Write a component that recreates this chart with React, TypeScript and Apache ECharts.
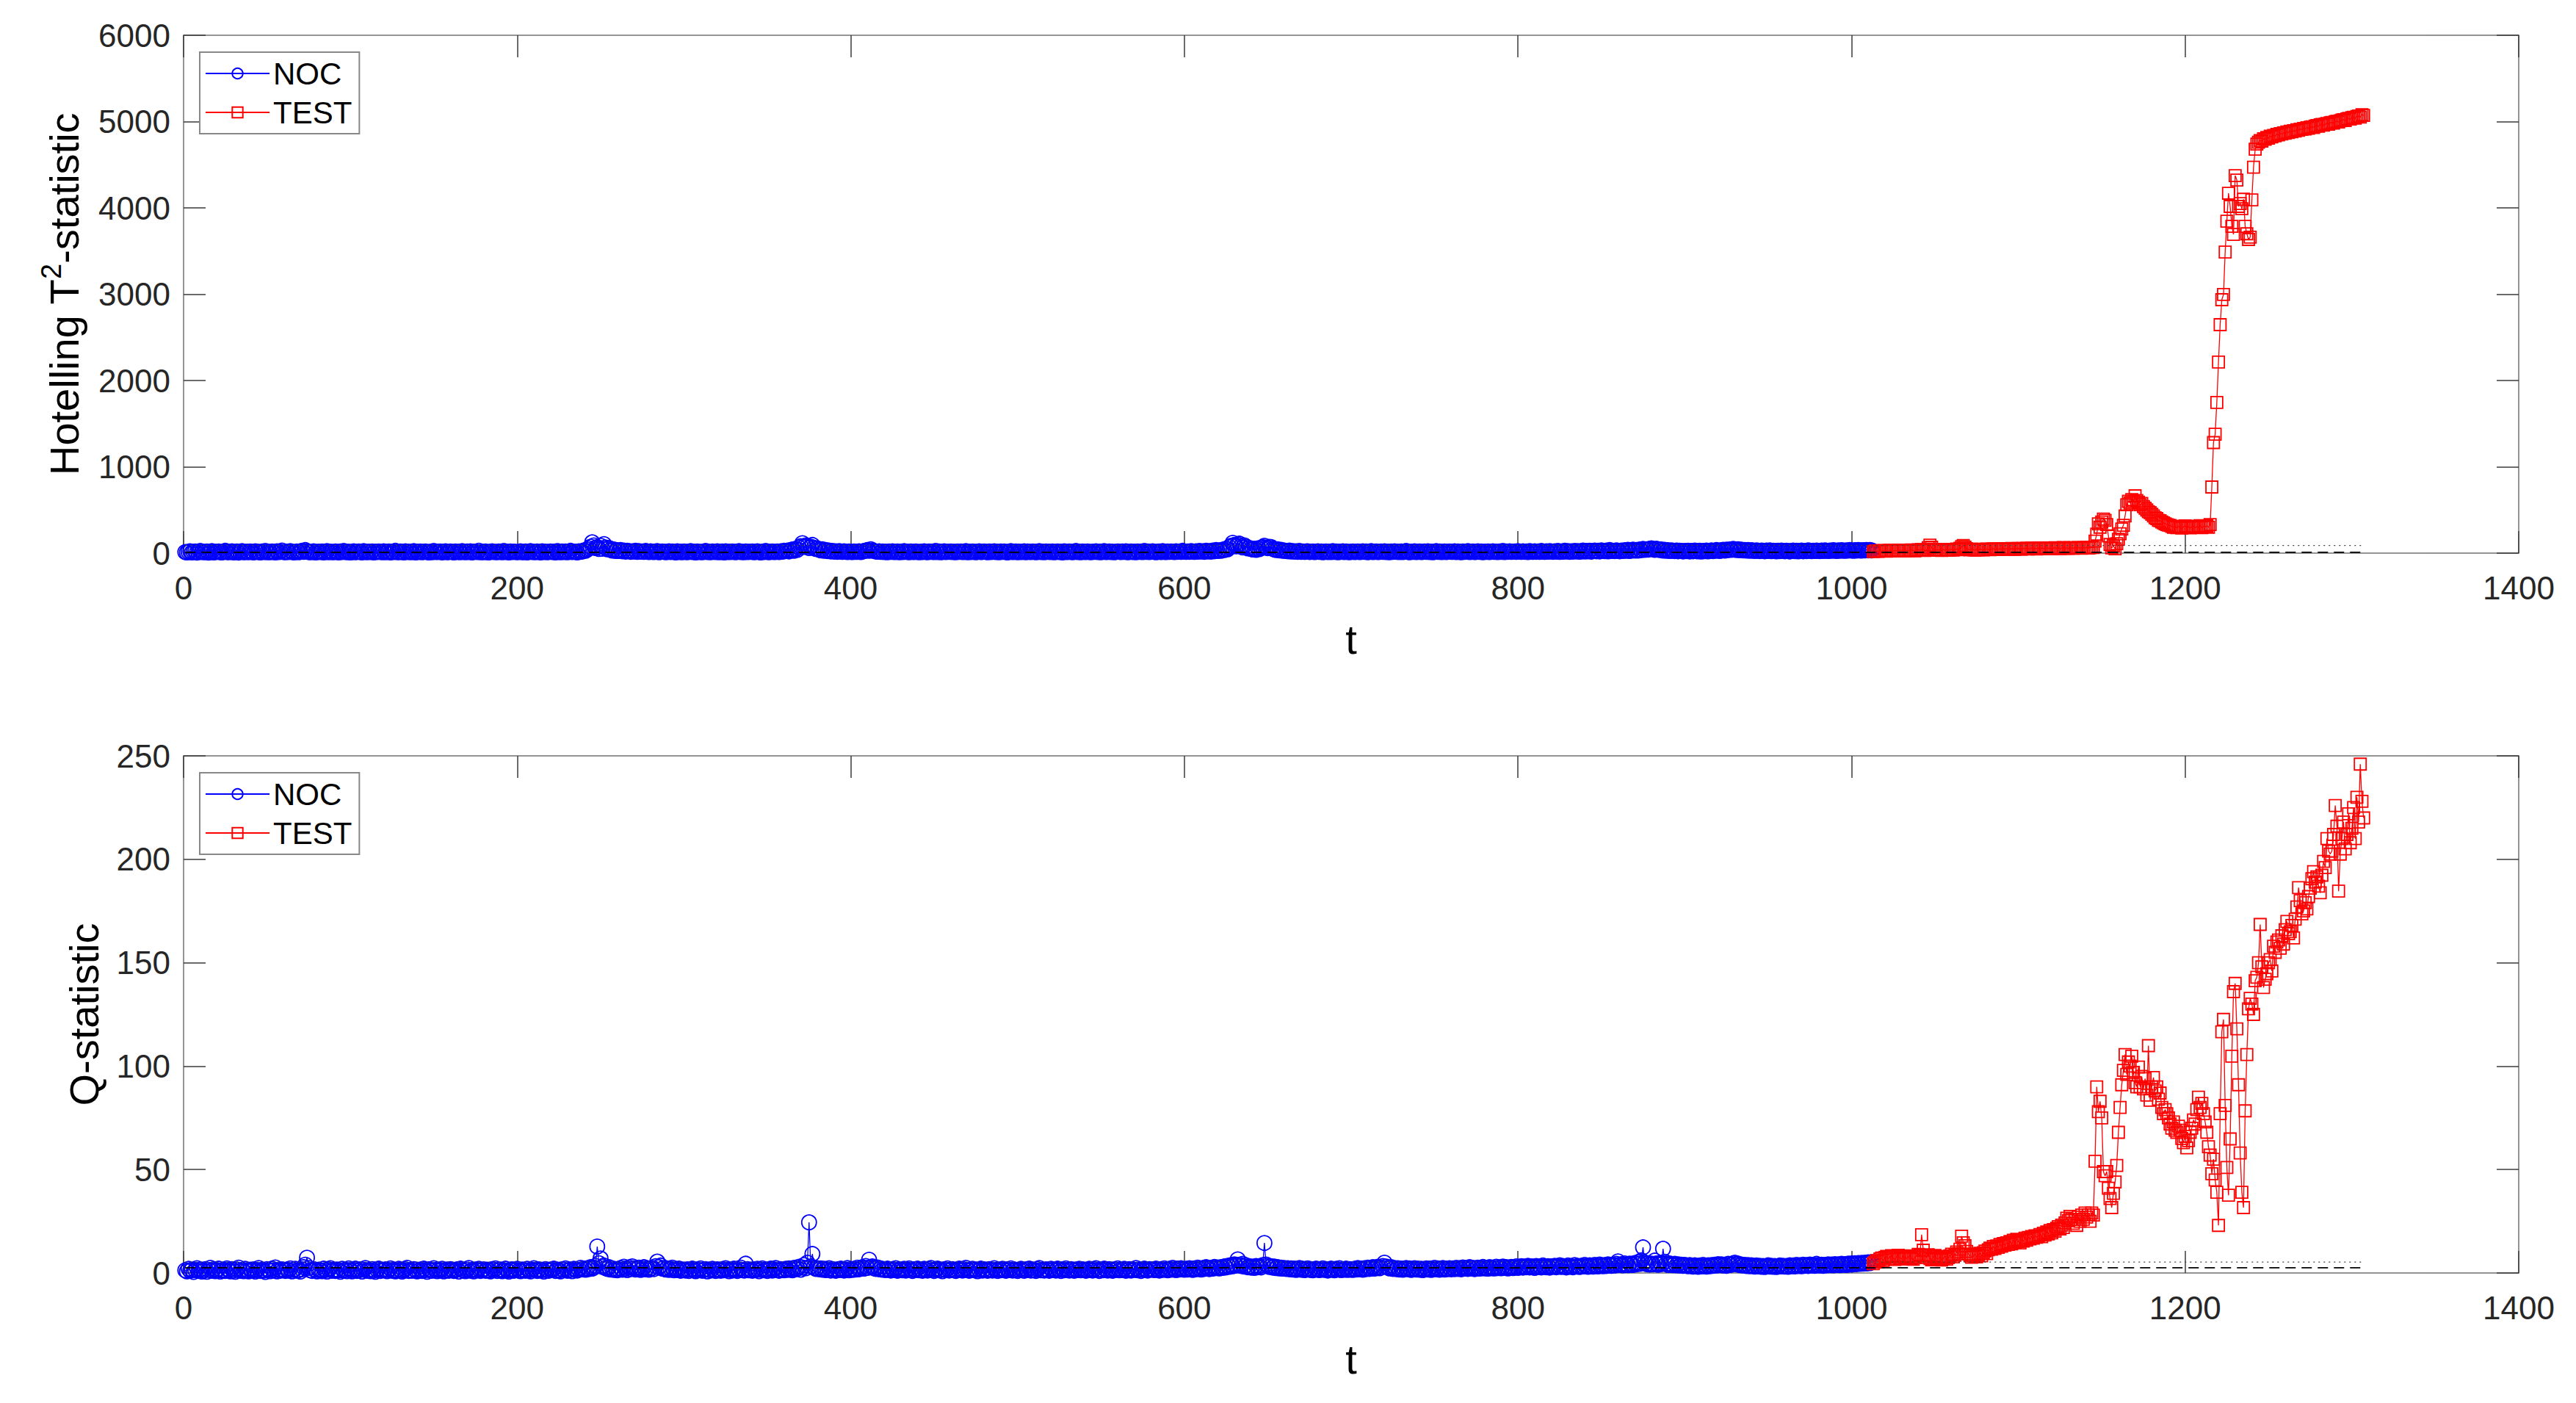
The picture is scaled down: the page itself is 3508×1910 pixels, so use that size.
import React, { useEffect, useRef } from 'react';
import * as echarts from 'echarts';

// ---------------- axis ranges / ticks ----------------
const X_RANGE = [0, 1400];
const X_STEP = 200;
const T2_RANGE = [0, 6000];
const T2_STEP = 1000;
const Q_RANGE = [0, 250];
const Q_STEP = 50;

const SERIES_NAMES = ['NOC', 'TEST'];

// control limits: [dotted, dashed]
const T2_LIMITS = [88, 10];
const Q_LIMITS = [5.3, 2.5];

// ---------------- Hotelling T^2 : NOC (t = 1 .. 1012) ----------------
const NOC_T2 = [
  12,8,15,22,9,14,18,7,11,25,16,10,13,20,6,17,23,9,12,15,
  19,11,8,14,27,13,10,16,21,9,12,18,7,15,24,11,13,17,10,20,
  14,9,22,16,12,8,19,13,26,11,15,10,18,14,9,21,12,16,30,13,
  10,17,12,24,15,9,13,20,11,16,28,14,35,19,12,10,15,22,8,13,
  16,12,19,9,14,23,11,17,13,10,20,15,8,18,12,25,14,11,16,9,
  13,21,10,15,18,12,9,24,14,11,17,13,20,8,16,12,19,15,10,22,
  11,14,18,9,16,13,27,12,10,19,15,8,21,13,17,11,14,23,9,16,
  12,18,10,15,20,13,9,17,11,26,14,12,16,19,8,15,22,10,13,18,
  14,9,20,12,16,11,24,15,10,18,13,21,9,14,17,12,28,11,15,10,
  19,13,8,16,22,12,15,10,18,14,11,25,13,17,9,20,12,16,14,11,
  15,21,10,13,18,9,16,24,12,14,11,19,15,8,22,13,17,10,14,20,
  12,16,9,23,14,11,18,13,20,10,15,27,12,17,14,9,21,16,19,32,
  28,40,55,75,125,90,60,70,48,85,52,105,66,45,60,38,30,42,25,33,
  26,35,22,30,18,28,24,16,21,19,27,15,23,17,20,14,25,18,12,22,
  16,13,19,24,11,15,20,17,10,14,22,12,18,15,9,21,13,16,11,19,
  14,10,17,23,12,16,9,20,13,15,11,18,25,12,14,10,19,16,13,21,
  11,15,18,9,22,13,16,12,20,14,10,17,24,13,15,11,19,12,16,14,
  18,10,15,21,13,9,17,12,26,14,11,16,20,13,15,19,12,22,17,28,
  24,30,20,35,42,28,50,38,65,80,115,72,90,80,60,75,95,62,48,55,
  40,32,45,28,36,24,30,20,26,18,22,16,24,19,14,21,17,13,18,15,
  12,19,14,16,22,13,18,25,30,35,28,45,32,24,20,17,22,14,19,13,
  16,11,18,14,21,12,15,19,10,17,13,23,14,16,11,20,15,12,18,14,
  10,17,13,22,15,11,19,14,16,12,25,13,18,10,15,21,12,17,14,19,
  13,16,11,20,14,18,12,15,23,10,17,13,19,14,11,16,21,12,15,18,
  14,10,19,13,17,22,12,16,11,18,15,20,13,9,16,24,12,14,19,11,
  17,13,15,21,10,18,14,12,20,16,11,15,23,13,17,10,19,14,16,12,
  20,11,15,18,13,16,9,22,14,12,19,15,11,17,26,13,16,10,18,14,
  12,19,15,11,17,14,21,13,16,10,18,24,12,15,20,13,17,11,14,19,
  16,12,18,14,22,10,15,19,13,17,11,20,14,16,12,25,15,18,13,17,
  21,14,11,16,19,13,24,15,12,18,14,20,17,13,22,16,19,15,27,18,
  14,20,16,23,18,15,21,17,26,19,22,16,28,20,24,18,30,22,35,26,
  32,28,40,36,52,45,70,85,120,95,78,100,110,80,65,90,72,55,60,48,
  42,50,38,55,46,62,70,85,64,58,72,70,50,42,36,44,32,38,28,30,
  26,22,30,19,24,18,21,16,25,15,20,14,18,22,13,17,19,12,16,21,
  14,18,11,16,20,13,17,12,23,15,19,10,16,14,21,13,18,15,11,17,
  20,13,16,19,12,15,22,14,18,11,17,24,13,16,20,12,15,18,14,21,
  13,17,11,19,15,22,14,16,12,20,13,18,25,15,11,17,14,21,13,16,
  19,12,15,18,14,21,13,17,10,16,23,14,18,12,15,20,13,17,19,14,
  16,22,13,18,15,11,20,14,17,24,13,16,19,12,15,21,14,18,11,17,
  15,20,13,17,22,14,16,12,19,15,25,13,18,16,21,14,17,20,15,23,
  17,14,21,16,19,13,24,18,15,22,16,20,14,26,18,15,21,17,23,19,
  16,22,18,25,15,20,17,28,19,23,16,21,18,26,20,24,17,22,30,19,
  25,21,28,18,24,30,22,27,20,32,26,23,29,21,35,25,28,24,31,27,
  22,30,26,34,28,38,25,32,40,29,36,30,42,35,48,38,44,40,50,55,
  46,38,52,45,36,42,30,38,28,34,25,32,27,24,30,22,28,26,20,25,
  23,28,20,26,22,30,24,21,27,19,25,23,29,21,26,32,24,28,35,30,
  26,33,38,30,40,35,42,38,48,44,36,45,34,40,32,37,30,35,28,33,
  30,26,32,28,24,30,27,22,29,25,31,23,28,26,21,27,24,30,25,22,
  28,24,20,26,30,23,27,21,25,29,22,26,24,31,27,23,28,25,30,26,
  24,29,26,32,28,25,30,27,33,29,26,31,28,34,30,27,32,29,35,31,
  28,33,30,36,32,29,34,31,37,33,35,32,
];

// ---------------- Hotelling T^2 : TEST (t = 1013 .. 1307) ----------------
const TEST_T2 = [
  18,22,25,20,28,24,30,26,22,29,33,27,24,31,28,35,30,26,32,29,
  34,28,31,37,30,26,33,39,35,41,36,30,38,62,92,68,44,36,40,33,
  37,32,39,35,41,34,38,44,36,42,47,40,56,75,88,70,52,43,38,45,
  40,36,43,38,46,41,37,44,48,42,39,46,50,43,47,41,49,45,52,46,
  50,44,48,53,47,43,51,55,49,46,54,50,57,48,52,58,51,55,49,56,
  53,59,52,57,61,54,58,50,56,62,55,60,53,58,64,57,61,55,63,59,
  56,62,58,65,60,57,64,61,67,59,63,70,66,140,220,340,300,360,394,380,
  330,200,100,60,85,50,110,160,224,280,323,430,560,600,580,620,600,664,610,590,
  560,575,540,520,500,480,470,450,430,410,400,380,375,360,350,340,330,325,320,310,
  300,305,295,310,300,290,305,315,298,308,292,302,312,296,306,300,318,295,310,305,
  315,300,330,766,1281,1378,1745,2213,2647,2936,2996,3489,3846,4170,4017,3787,3693,4374,4323,4017,
  4050,3990,4100,3787,3700,3634,3660,4093,4472,4680,4740,4760,4780,4774,4800,4795,4815,4808,4830,4822,
  4840,4835,4851,4845,4860,4856,4870,4865,4880,4874,4888,4882,4895,4890,4905,4899,4912,4910,4920,4915,
  4928,4922,4935,4940,4932,4948,4955,4946,4962,4966,4958,4972,4978,4970,4985,4990,4982,4998,5004,4995,
  5010,5018,5023,5012,5030,5036,5028,5045,5050,5040,5058,5065,5052,5080,5072,
];

// ---------------- Q-statistic : NOC (t = 1 .. 1012) ----------------
const NOC_Q = [
  1.3,0.8,2.0,1.1,1.6,0.5,1.4,2.3,1.0,1.7,0.7,1.2,1.9,0.6,1.5,2.5,1.1,1.8,0.9,1.4,
  2.1,0.7,1.3,1.6,1.0,2.2,1.4,0.8,1.9,1.2,0.6,1.7,2.6,1.1,1.5,0.9,2.0,1.3,0.8,1.6,
  1.1,1.8,0.7,1.4,2.4,1.0,1.6,1.2,0.5,1.9,1.5,0.9,2.1,1.3,2.7,0.8,1.6,1.1,1.8,1.4,
  1.0,1.7,1.2,2.2,0.8,1.5,2.0,1.1,1.4,0.7,1.8,2.8,4.0,7.4,2.4,1.3,1.0,1.9,1.5,0.8,
  1.6,1.2,0.9,2.1,1.4,0.7,1.8,2.3,1.1,1.5,1.0,1.7,1.3,0.6,2.0,1.2,1.6,0.9,2.2,1.4,
  0.8,1.5,2.1,1.0,1.3,1.8,0.7,1.6,2.4,1.1,1.4,0.9,1.9,1.2,0.6,1.7,2.1,1.0,1.5,1.3,
  1.8,0.9,1.4,2.2,1.1,1.6,0.8,1.3,2.0,1.5,0.7,1.2,1.8,2.5,1.0,1.4,1.1,1.9,1.6,0.8,
  1.2,1.7,1.0,2.1,1.4,0.6,1.8,1.3,1.1,2.3,1.5,0.9,1.6,1.2,2.0,0.8,1.4,1.7,1.1,1.9,
  1.5,1.0,1.3,1.8,0.7,2.1,1.4,1.2,0.9,1.6,2.4,1.1,1.5,0.8,1.7,1.3,2.0,1.0,1.4,1.8,
  1.1,1.6,1.2,0.8,1.9,1.4,2.2,1.0,1.5,1.7,0.9,1.3,2.1,1.2,0.7,1.6,1.8,1.1,1.4,2.0,
  1.2,0.9,1.7,1.5,1.1,2.0,1.3,0.8,1.6,2.3,1.4,1.0,1.8,1.2,1.5,0.7,1.9,1.3,1.1,1.7,
  1.4,2.1,1.0,1.6,1.2,0.8,1.8,1.5,2.2,1.1,1.3,1.7,0.9,2.0,1.4,1.2,1.6,2.5,1.8,2.1,
  1.6,2.3,1.9,2.8,2.1,2.6,3.4,12.8,4.7,7.0,3.0,3.6,2.4,2.0,2.8,1.7,2.2,1.5,1.9,1.3,
  1.8,2.4,1.6,3.0,2.1,1.4,2.7,1.9,3.2,2.3,1.7,2.1,2.6,1.5,2.0,2.8,1.8,2.3,1.6,2.2,
  2.5,1.9,3.3,5.5,2.8,3.6,2.1,2.4,1.7,2.2,1.5,2.0,2.6,1.3,1.8,1.4,2.1,1.1,1.7,1.5,
  1.2,1.8,1.0,1.6,2.1,1.3,0.9,1.7,1.4,2.2,1.1,1.5,1.9,0.8,1.6,1.2,2.0,1.4,1.0,1.8,
  1.5,1.1,1.9,1.3,2.3,1.6,0.9,1.7,1.2,2.1,1.4,1.0,1.8,2.6,1.5,1.2,4.5,1.9,1.3,1.6,
  1.1,1.8,1.4,2.0,0.9,1.6,2.2,1.3,1.7,1.0,1.5,2.1,1.2,1.8,2.4,1.4,1.1,1.9,1.6,1.3,
  2.0,1.5,2.2,1.7,1.3,2.5,1.8,2.1,3.0,1.6,2.7,3.8,2.3,5.0,24.5,3.2,9.2,2.6,2.0,2.3,
  1.8,2.2,1.6,2.0,1.4,1.7,2.3,1.2,1.9,1.5,1.1,1.8,1.4,2.1,1.6,1.2,1.7,2.4,1.3,1.9,
  1.5,2.0,1.7,2.6,1.8,2.2,2.8,2.1,3.4,2.5,6.4,2.9,3.2,2.3,2.0,2.7,1.8,2.2,1.6,1.9,
  1.4,2.1,1.7,1.2,1.9,1.5,2.3,1.1,1.8,1.6,1.3,2.0,1.2,1.7,2.2,1.4,1.0,1.8,1.5,2.1,
  1.3,1.7,1.1,2.0,1.5,1.2,1.9,2.4,1.4,1.0,1.7,2.1,1.3,1.6,0.9,1.8,1.4,2.2,1.2,1.6,
  1.9,1.3,1.0,1.7,2.1,1.5,1.2,1.8,2.5,1.4,1.1,1.6,2.0,1.3,1.7,0.9,1.5,2.1,1.2,1.8,
  1.4,1.1,1.9,1.6,1.2,2.3,1.5,1.0,1.7,1.3,2.0,1.6,1.1,1.8,1.4,2.2,1.2,1.7,1.5,1.0,
  1.6,2.0,1.3,1.1,1.8,1.5,2.1,1.2,1.7,1.4,1.0,1.9,2.4,1.3,1.6,1.2,1.8,1.5,1.1,2.0,
  1.4,1.7,1.2,2.1,1.6,1.0,1.8,1.3,2.2,1.5,1.2,1.9,1.6,1.1,1.7,1.4,2.0,1.3,1.8,1.5,
  1.1,1.6,2.0,1.4,1.2,1.8,2.3,1.5,1.0,1.7,1.3,2.1,1.6,1.2,1.9,1.4,1.1,1.8,1.5,2.2,
  1.3,1.7,1.4,2.0,1.1,1.6,1.9,1.2,1.8,1.5,2.4,1.3,1.7,1.0,1.6,2.1,1.4,1.2,1.9,1.6,
  1.8,1.4,2.1,1.6,1.2,1.9,1.5,2.2,1.7,1.3,2.0,1.6,2.5,1.8,1.4,2.1,1.7,2.3,1.9,1.6,
  2.0,1.7,2.3,1.9,1.5,2.2,1.8,2.6,2.1,1.7,2.4,2.0,2.8,2.2,1.9,2.5,2.1,2.9,2.4,2.7,
  2.2,2.8,2.5,3.2,2.7,3.5,3.0,3.8,3.3,4.2,3.6,6.6,4.0,3.4,4.4,3.1,3.7,2.8,3.3,2.6,
  3.0,2.5,3.4,2.8,3.2,2.7,3.8,14.5,4.1,3.5,2.9,3.3,2.6,3.1,2.4,2.8,2.2,2.6,2.1,2.4,
  2.0,2.3,1.8,2.2,1.7,2.1,1.5,1.9,2.4,1.6,2.0,1.4,1.8,2.2,1.5,1.9,1.3,1.7,2.1,1.6,
  1.4,1.8,2.2,1.5,1.9,1.2,1.7,2.1,1.6,1.3,2.0,1.7,2.3,1.4,1.8,1.6,2.1,1.5,1.9,1.7,
  1.5,2.0,1.7,2.4,1.8,2.1,1.6,2.3,1.9,2.6,2.0,2.2,2.8,2.1,2.5,3.0,2.3,2.7,3.4,5.0,
  3.1,2.6,2.2,2.8,2.0,2.4,1.9,2.3,1.7,2.1,1.6,2.0,2.4,1.8,2.2,1.5,1.9,2.3,1.7,2.1,
  1.6,2.0,1.4,1.8,2.2,1.7,2.1,1.5,1.9,2.5,1.8,2.2,1.6,2.0,2.4,1.7,2.1,1.9,2.3,1.8,
  2.2,1.9,2.5,2.0,2.3,1.8,2.7,2.1,2.4,2.0,2.8,2.2,2.5,1.9,2.3,2.6,2.1,2.4,2.9,2.2,
  2.5,2.1,2.8,2.3,2.6,2.2,3.0,2.4,2.7,2.3,3.1,2.5,2.8,2.2,2.6,2.9,2.4,2.7,3.2,2.5,
  2.9,3.3,2.6,3.1,2.8,3.5,2.7,3.2,3.0,2.5,3.4,2.9,3.1,2.7,3.6,3.0,2.8,3.3,2.6,3.2,
  3.0,3.5,2.8,3.2,3.7,2.9,3.4,3.1,2.7,3.6,3.0,3.3,2.8,3.8,3.1,3.4,2.9,3.5,3.2,3.9,
  3.3,3.0,3.7,3.4,3.1,3.9,3.5,3.2,4.1,3.6,3.3,3.8,3.4,4.2,3.7,3.5,4.0,3.6,4.4,5.6,
  3.9,4.3,3.7,4.6,4.0,3.8,4.5,4.1,3.9,4.8,4.2,5.2,4.4,6.1,12.4,5.0,4.3,4.7,4.1,4.5,
  4.2,6.0,4.6,4.0,4.9,4.3,11.7,5.4,4.4,3.9,4.6,4.1,3.8,4.4,3.7,4.2,3.6,4.0,3.5,3.9,
  3.6,3.3,3.8,3.4,3.1,3.7,3.3,3.0,3.6,3.2,3.9,3.4,3.1,3.7,3.3,3.8,3.5,4.0,3.6,4.3,
  3.8,4.2,3.6,4.0,3.5,4.4,3.9,4.1,4.6,5.0,4.2,4.5,3.8,4.1,3.6,3.9,3.4,3.8,3.3,3.7,
  3.4,3.1,3.6,3.2,3.5,3.0,3.4,2.9,3.3,3.7,3.1,3.5,3.0,3.4,2.9,3.3,3.6,3.2,3.5,3.1,
  3.4,3.0,3.7,3.3,3.6,3.2,3.9,3.4,3.7,3.3,4.0,3.5,3.8,3.4,4.1,3.6,3.9,3.5,4.4,3.8,
  3.6,4.0,3.5,3.9,3.7,4.2,3.8,4.1,3.7,4.3,3.9,4.2,3.8,4.4,4.0,4.3,3.9,4.5,4.1,4.6,
  4.2,4.7,4.3,4.8,4.4,4.9,4.5,5.0,4.6,5.1,4.8,5.2,
];

// ---------------- Q-statistic : TEST (t = 1013 .. 1307) ----------------
const TEST_Q = [
  4.5,5.2,6.0,5.5,6.8,7.2,6.1,7.5,8.0,6.9,7.7,8.4,7.0,6.5,7.9,8.6,7.3,6.8,8.1,7.4,
  6.9,7.8,8.3,7.1,6.6,7.5,8.2,9.0,8.6,18.5,11.0,8.2,7.4,8.8,7.0,6.4,7.9,8.5,7.2,6.8,
  7.6,6.3,7.1,8.0,6.7,7.4,8.3,9.1,7.8,8.6,10.2,9.4,11.5,17.8,14.6,13.2,10.4,9.2,8.5,7.6,
  8.2,9.0,7.8,8.7,9.5,8.3,9.8,10.6,9.4,11.2,12.0,11.5,12.8,11.9,13.1,12.4,13.8,12.9,14.2,13.5,
  14.6,13.8,15.2,14.1,15.8,14.7,16.3,15.2,14.5,16.0,15.4,16.8,15.9,17.2,16.5,17.6,16.8,18.0,17.3,17.9,
  18.6,17.5,19.2,18.3,19.8,18.9,20.5,19.4,21.0,20.2,21.6,22.4,21.3,23.1,22.0,24.2,26.5,25.3,27.4,26.0,
  24,26,23,27,25,28,26,29,27,28,25,29,28,54,90,78,83,75,49,47,
  49,41,36,31.6,38.5,44,52,68,80,91,98,105.6,96,102,100,104.8,97,92,90,99.6,
  90,95,89,94,86,109.9,83.5,90,94.5,88,90,84,87,80,77,79,77,75,72,70,
  73,69,68,71,69,65,63,66,60.5,64,68,70,74,72,79,85,80,82,77,73,
  68,61,57,48,55,45,39,23,77,116.6,122.6,81,51,37.6,64.8,104.8,136,140,118,91,
  58,39,31.6,78.4,105.6,127.7,132.8,130,125,141.3,143,150,168.5,148,138,142,144.7,150,151.5,146,
  158,155,160,161,157,163,159,166,170,164,165,168,162,171,177,186.3,180,173.6,175,179,
  176,182,186,190.6,194,189,191.5,187,183.8,192.3,199,196,210,204,202.5,204,212,226,216,184.6,
  202.5,210,218,205,212,222,208,215,225,210,230,218,246,228,220,
];

// ---------------- styling ----------------
const FONT = "'Liberation Sans', Arial, Helvetica, sans-serif";
const AXIS_COLOR = '#707070';
const TICK_COLOR = '#3a3a3a';
const LABEL_COLOR = '#262626';
const NOC_COLOR = '#0000ff';
const TEST_COLOR = '#ff0000';

const PANELS = [
  { top: 48, height: 705, yRange: T2_RANGE, yStep: T2_STEP,
    yName: '{a|Hotelling T}{s|2}{a|-statistic}', nameGap: 134,
    noc: NOC_T2, test: TEST_T2, limits: T2_LIMITS, legendTop: 71 },
  { top: 1029, height: 704, yRange: Q_RANGE, yStep: Q_STEP,
    yName: '{a|Q-statistic}', nameGap: 108,
    noc: NOC_Q, test: TEST_Q, limits: Q_LIMITS, legendTop: 1052 },
];

const GRID_LEFT = 250;
const GRID_WIDTH = 3180;

function buildOption() {
  const grid: any[] = [];
  const xAxis: any[] = [];
  const yAxis: any[] = [];
  const series: any[] = [];
  const legend: any[] = [];

  const axisLine = { show: true, onZero: false, lineStyle: { color: AXIS_COLOR, width: 1.5 } };
  const axisTick = { show: true, inside: true, length: 30, lineStyle: { color: TICK_COLOR, width: 1.5 } };
  const plain = (v: number) => String(v);

  const nameRich = {
    a: { fontSize: 56, color: '#000', fontFamily: FONT, verticalAlign: 'bottom' },
    s: { fontSize: 38, lineHeight: 38, color: '#000', fontFamily: FONT, padding: [0, 0, 34, 0] },
  };

  PANELS.forEach((p, g) => {
    grid.push({ left: GRID_LEFT, top: p.top, width: GRID_WIDTH, height: p.height, containLabel: false });

    xAxis.push({
      type: 'value', gridIndex: g, min: X_RANGE[0], max: X_RANGE[1], interval: X_STEP, position: 'bottom',
      axisLine, axisTick,
      axisLabel: { show: true, fontSize: 44, color: LABEL_COLOR, fontFamily: FONT, margin: 25, formatter: plain },
      splitLine: { show: false },
      name: 't', nameLocation: 'middle', nameGap: 89,
      nameTextStyle: { fontSize: 56, color: '#000', fontFamily: FONT },
    });
    xAxis.push({
      type: 'value', gridIndex: g, min: X_RANGE[0], max: X_RANGE[1], interval: X_STEP, position: 'top',
      axisLine, axisTick, axisLabel: { show: false }, splitLine: { show: false },
    });

    yAxis.push({
      type: 'value', gridIndex: g, min: p.yRange[0], max: p.yRange[1], interval: p.yStep, position: 'left',
      axisLine, axisTick,
      axisLabel: { show: true, fontSize: 44, color: LABEL_COLOR, fontFamily: FONT, margin: 18, formatter: plain },
      splitLine: { show: false },
      name: p.yName, nameLocation: 'middle', nameGap: p.nameGap,
      nameTextStyle: { fontSize: 56, color: '#000', fontFamily: FONT, rich: nameRich },
    });
    yAxis.push({
      type: 'value', gridIndex: g, min: p.yRange[0], max: p.yRange[1], interval: p.yStep, position: 'right',
      axisLine, axisTick, axisLabel: { show: false }, splitLine: { show: false },
    });

    const xi = g * 2;
    const yi = g * 2;
    const nocStart = 1;
    const testStart = p.noc.length + 1;
    const lastT = p.noc.length + p.test.length;

    series.push({
      type: 'line', name: SERIES_NAMES[0], xAxisIndex: xi, yAxisIndex: yi,
      data: p.noc.map((v, i) => [nocStart + i, v]),
      symbol: 'circle', symbolSize: 20, showSymbol: true, clip: false, silent: true,
      itemStyle: { color: 'rgba(255,255,255,0)', borderColor: NOC_COLOR, borderWidth: 1.8 },
      lineStyle: { color: NOC_COLOR, width: 1.3 },
      emphasis: { disabled: true }, z: 2, animation: false,
    });
    series.push({
      type: 'line', name: SERIES_NAMES[1], xAxisIndex: xi, yAxisIndex: yi,
      data: p.test.map((v, i) => [testStart + i, v]),
      symbol: 'rect', symbolSize: 16, showSymbol: true, clip: false, silent: true,
      itemStyle: { color: 'rgba(255,255,255,0)', borderColor: TEST_COLOR, borderWidth: 1.8 },
      lineStyle: { color: TEST_COLOR, width: 1.3 },
      emphasis: { disabled: true }, z: 3, animation: false,
    });
    series.push({
      type: 'line', xAxisIndex: xi, yAxisIndex: yi,
      data: [[nocStart, p.limits[0]], [lastT, p.limits[0]]],
      symbol: 'none', silent: true, z: 5, animation: false,
      lineStyle: { color: '#444', width: 1.3, type: [2, 5] },
    });
    series.push({
      type: 'line', xAxisIndex: xi, yAxisIndex: yi,
      data: [[nocStart, p.limits[1]], [lastT, p.limits[1]]],
      symbol: 'none', silent: true, z: 5, animation: false,
      lineStyle: { color: '#000', width: 1.8, type: [14, 8] },
    });

    legend.push({
      orient: 'vertical', left: 272, top: p.legendTop,
      data: SERIES_NAMES, itemWidth: 87, itemHeight: 18, itemGap: 11,
      padding: [8, 10, 8, 7], borderColor: '#888', borderWidth: 2, backgroundColor: '#fff',
      textStyle: { fontSize: 42, color: '#000', fontFamily: FONT },
      selectedMode: false, z: 10,
    });
  });

  return {
    animation: false,
    backgroundColor: '#fff',
    textStyle: { fontFamily: FONT },
    grid, xAxis, yAxis, series, legend,
  };
}

export default function App() {
  const ref = useRef<HTMLDivElement>(null);
  useEffect(() => {
    const chart = echarts.init(ref.current!, null, { renderer: 'svg' });
    chart.setOption(buildOption() as any);
    return () => chart.dispose();
  }, []);
  return (
    <div
      ref={ref}
      style={{ position: 'absolute', left: 0, top: 0, width: 3508, height: 1910, background: '#fff' }}
    />
  );
}
